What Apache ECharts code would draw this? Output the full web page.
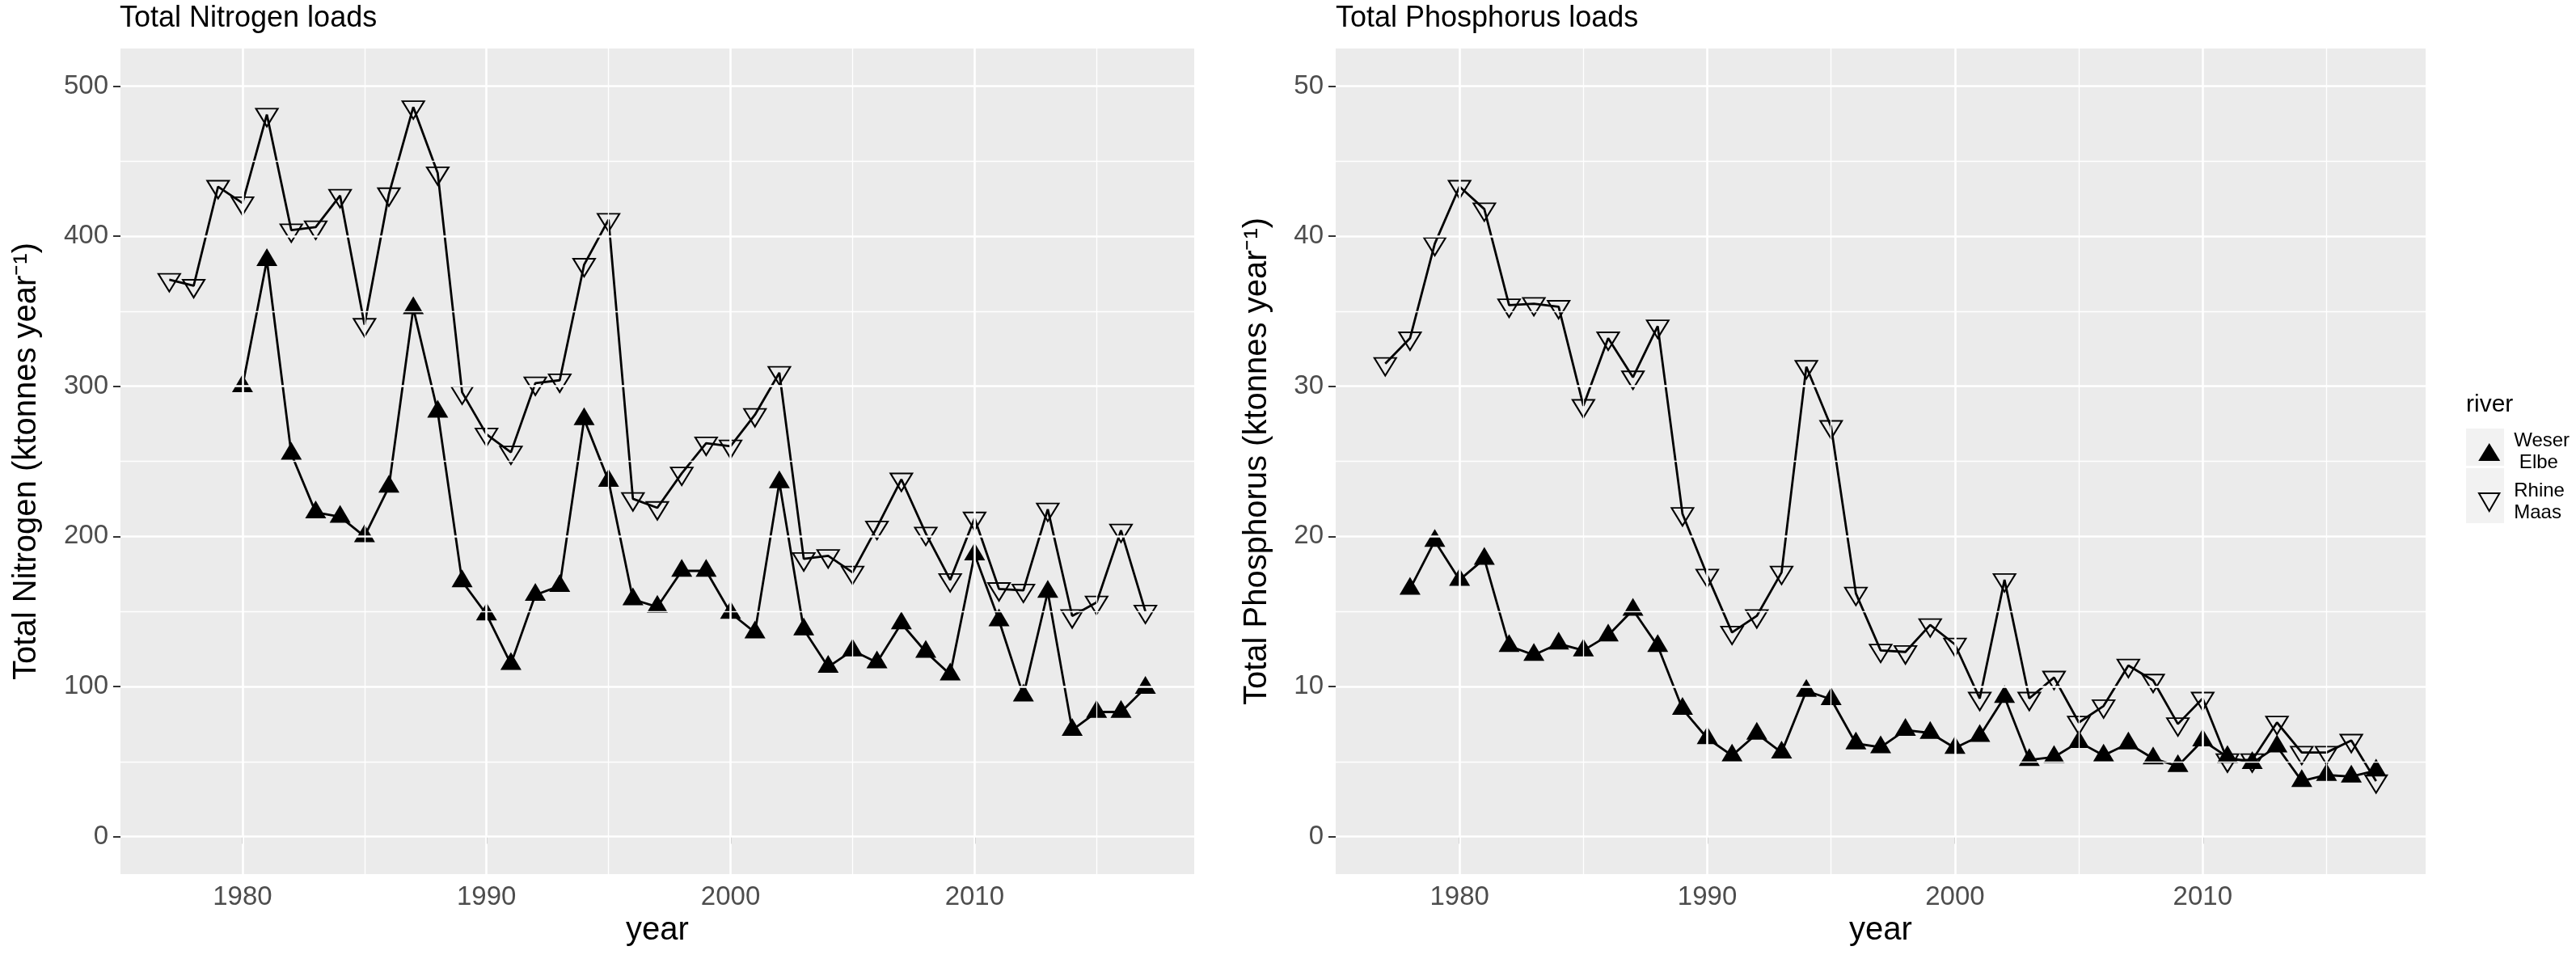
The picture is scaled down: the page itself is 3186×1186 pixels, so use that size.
<!DOCTYPE html>
<html>
<head>
<meta charset="utf-8">
<title>Nitrogen and phosphorus loads</title>
<script src="https://cdn.jsdelivr.net/npm/echarts@6/dist/echarts.min.js"></script>
<style>
  html, body { margin: 0; padding: 0; background: #fff; }
  #chart { width: 3186px; height: 1186px; }
</style>
</head>
<body>
<div id="chart"></div>
<script>
var years = [1977, 1978, 1979, 1980, 1981, 1982, 1983, 1984, 1985, 1986, 1987, 1988, 1989, 1990,
  1991, 1992, 1993, 1994, 1995, 1996, 1997, 1998, 1999, 2000, 2001, 2002, 2003, 2004,
  2005, 2006, 2007, 2008, 2009, 2010, 2011, 2012, 2013, 2014, 2015, 2016, 2017];

// total nitrogen, ktonnes per year
var nitrogenRhine = [371, 367, 433, 422, 481, 404, 406, 427, 341, 428, 486, 442, 296, 268,
  256, 302, 304, 381, 411, 225, 219, 242, 262, 260, 281, 309, 185, 187,
  176, 206, 238, 202, 171, 212, 165, 164, 218, 147, 156, 204, 150];
var nitrogenWeser = [null, null, null, 300, 384, 255, 216, 213, 200, 233, 352, 283, 170, 148,
  115, 161, 167, 278, 237, 158, 153, 177, 177, 149, 136, 236, 138, 113,
  124, 116, 142, 123, 108, 188, 144, 94, 163, 71, 83, 83, 99];

// total phosphorus, ktonnes per year
var phosphorusRhine = [31.5, 33.2, 39.5, 43.3, 41.8, 35.4, 35.5, 35.3, 28.7, 33.2, 30.6, 34.0, 21.5, 17.4,
  13.6, 14.7, 17.6, 31.3, 27.3, 16.2, 12.4, 12.3, 14.1, 12.8, 9.2, 17.1, 9.2, 10.6,
  7.6, 8.7, 11.4, 10.4, 7.5, 9.2, 5.1, 5.1, 7.6, 5.6, 5.6, 6.4, 3.7];
var phosphorusWeser = [null, 16.5, 19.7, 17.1, 18.5, 12.7, 12.1, 12.85, 12.4, 13.4, 15.1, 12.7, 8.5, 6.55,
  5.4, 6.85, 5.6, 9.7, 9.15, 6.2, 5.95, 7.1, 6.9, 5.9, 6.7, 9.3, 5.1, 5.3,
  6.3, 5.4, 6.2, 5.2, 4.7, 6.4, 5.3, 4.9, 6.0, 3.7, 4.1, 4.0, 4.4];

// axis ticks
var yearTicks = [1980, 1990, 2000, 2010];
var yearMinor = [1985, 1995, 2005, 2015];
var nitrogenTicks = [0, 100, 200, 300, 400, 500];
var nitrogenMinor = [50, 150, 250, 350, 450];
var phosphorusTicks = [0, 10, 20, 30, 40, 50];
var phosphorusMinor = [5, 15, 25, 35, 45];

var riverNames = ['Weser Elbe', 'Rhine Maas'];
var riverLabels = ['Weser\n Elbe', 'Rhine\nMaas'];

var FONT = '"Liberation Sans", Arial, Helvetica, sans-serif';
var DOWN_TRI = 'path://M0,0L20,0L10,17.32Z';

function pairs(vals) {
  var out = [];
  for (var i = 0; i < years.length; i++) {
    if (vals[i] != null) out.push([years[i], vals[i]]);
  }
  return out;
}

function gridLines(idx, yMajor, yMinor) {
  var minor = { color: '#ffffff', width: 1.3, type: 'solid' };
  var major = { color: '#ffffff', width: 2.6, type: 'solid' };
  var data = [];
  yMinor.forEach(function (v) { data.push({ yAxis: v, lineStyle: minor }); });
  yearMinor.forEach(function (v) { data.push({ xAxis: v, lineStyle: minor }); });
  yMajor.forEach(function (v) { data.push({ yAxis: v, lineStyle: major }); });
  yearTicks.forEach(function (v) { data.push({ xAxis: v, lineStyle: major }); });
  return {
    type: 'line', name: 'grid' + idx, xAxisIndex: idx, yAxisIndex: idx,
    data: [], z: 1, silent: true,
    markLine: {
      silent: true, symbol: 'none', animation: false,
      label: { show: false }, data: data
    }
  };
}

function weserSeries(idx, vals) {
  return {
    type: 'line', name: riverNames[0], xAxisIndex: idx, yAxisIndex: idx,
    data: pairs(vals), z: 3,
    symbol: 'triangle', symbolSize: [26, 22], symbolOffset: [0, -3.7],
    lineStyle: { color: '#000', width: 2.8 },
    itemStyle: { color: '#000', borderWidth: 0 }
  };
}

function rhineSeries(idx, vals) {
  return {
    type: 'line', name: riverNames[1], xAxisIndex: idx, yAxisIndex: idx,
    data: pairs(vals), z: 3,
    symbol: DOWN_TRI, symbolSize: [27, 22], symbolOffset: [0, 3.7],
    lineStyle: { color: '#000', width: 2.8 },
    itemStyle: { color: 'rgba(0,0,0,0)', borderColor: '#000', borderWidth: 2 }
  };
}

function xAxisDef(idx) {
  return {
    type: 'value', gridIndex: idx, min: 1975, max: 2019,
    name: 'year', nameLocation: 'middle', nameGap: 46,
    nameTextStyle: { fontSize: 40, color: '#000', fontFamily: FONT },
    axisLine: { show: false },
    axisTick: { show: true, length: 9, customValues: yearTicks, lineStyle: { color: '#333', width: 2 } },
    axisLabel: {
      customValues: yearTicks, margin: 12, fontSize: 33, color: '#4d4d4d', fontFamily: FONT,
      formatter: function (v) { return String(v); }
    },
    splitLine: { show: false }
  };
}

function yAxisDef(idx, lo, hi, ticks, title, gap) {
  return {
    type: 'value', gridIndex: idx, min: lo, max: hi,
    name: title, nameLocation: 'middle', nameGap: gap,
    nameTextStyle: { fontSize: 40, color: '#000', fontFamily: FONT },
    axisLine: { show: false },
    axisTick: { show: true, length: 9, customValues: ticks, lineStyle: { color: '#333', width: 2 } },
    axisLabel: { customValues: ticks, margin: 15, fontSize: 33, color: '#4d4d4d', fontFamily: FONT },
    splitLine: { show: false }
  };
}

var chart = echarts.init(document.getElementById('chart'));
chart.setOption({
  animation: false,
  backgroundColor: '#ffffff',
  title: [
    { text: 'Total Nitrogen loads', left: 143, top: 0,
      textStyle: { fontSize: 36, fontWeight: 'normal', color: '#000', fontFamily: FONT } },
    { text: 'Total Phosphorus loads', left: 1647, top: 0,
      textStyle: { fontSize: 36, fontWeight: 'normal', color: '#000', fontFamily: FONT } }
  ],
  grid: [
    { left: 149, top: 60, width: 1328, height: 1021, show: true, backgroundColor: '#ebebeb', borderWidth: 0 },
    { left: 1652, top: 60, width: 1348, height: 1021, show: true, backgroundColor: '#ebebeb', borderWidth: 0 }
  ],
  xAxis: [xAxisDef(0), xAxisDef(1)],
  yAxis: [
    yAxisDef(0, -25, 525, nitrogenTicks, 'Total Nitrogen (ktonnes year\u207B\u00B9)', 96),
    yAxisDef(1, -2.5, 52.5, phosphorusTicks, 'Total Phosphorus (ktonnes year\u207B\u00B9)', 77)
  ],
  legend: {
    orient: 'vertical', left: 3060, top: 527,
    itemWidth: 27, itemHeight: 22, itemGap: 8,
    selectedMode: false,
    data: [
      { name: riverNames[0], icon: 'triangle' },
      { name: riverNames[1], icon: DOWN_TRI }
    ],
    formatter: function (name) { return riverLabels[riverNames.indexOf(name)]; },
    textStyle: { fontSize: 24, lineHeight: 27, color: '#000', fontFamily: FONT, padding: [0, 0, 0, 12] }
  },
  graphic: [
    { type: 'text', left: 3050, top: 486,
      style: { text: 'river', fontSize: 30, fill: '#000', font: '30px ' + FONT } },
    { type: 'rect', left: 3050, top: 530, z: -1,
      shape: { width: 47, height: 46 }, style: { fill: '#f2f2f2' } },
    { type: 'rect', left: 3050, top: 579, z: -1,
      shape: { width: 47, height: 68 }, style: { fill: '#f2f2f2' } }
  ],
  series: [
    gridLines(0, nitrogenTicks, nitrogenMinor),
    gridLines(1, phosphorusTicks, phosphorusMinor),
    weserSeries(0, nitrogenWeser),
    rhineSeries(0, nitrogenRhine),
    weserSeries(1, phosphorusWeser),
    rhineSeries(1, phosphorusRhine)
  ]
});
</script>
</body>
</html>
